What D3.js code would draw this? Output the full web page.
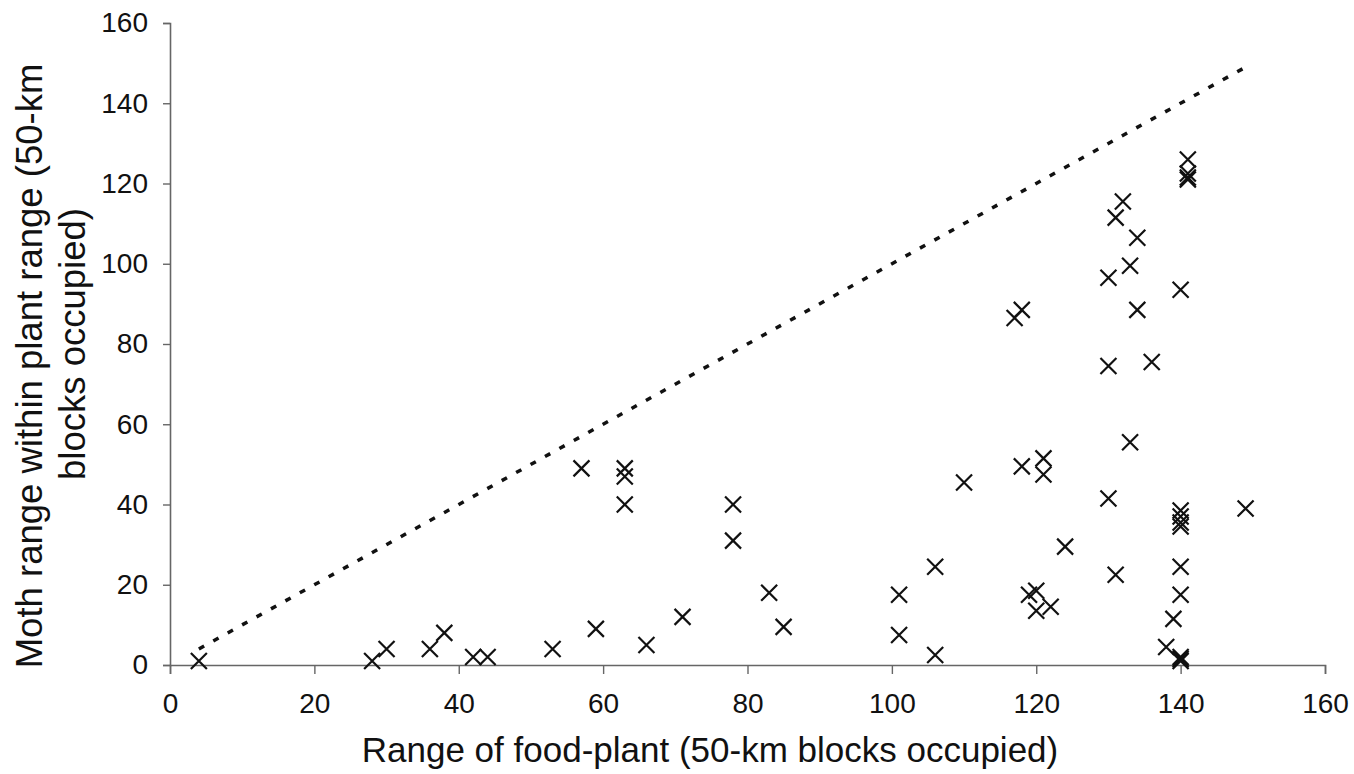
<!DOCTYPE html>
<html>
<head>
<meta charset="utf-8">
<script src="https://cdn.jsdelivr.net/npm/d3@7"></script>
<style>
  html, body { margin: 0; padding: 0; background: #fff; }
  svg { display: block; }
  text { font-family: "Liberation Sans", Arial, sans-serif; fill: #111; }
</style>
</head>
<body>
<svg id="chart" width="1354" height="774"></svg>
<script>
// Range of food-plant (x) and moth range within plant range (y), in 50-km blocks
const plantRange = [4, 28, 30, 36, 38, 42, 44, 53, 57, 59, 63, 63, 63, 66, 71, 78, 78, 83, 85,
  101, 101, 106, 106, 110, 117, 118, 118, 119, 120, 120, 121, 121, 122, 124,
  130, 130, 130, 131, 131, 132, 133, 133, 134, 134, 136, 138, 139,
  140, 140, 140, 140, 140, 140, 140, 140, 140, 140, 141, 141, 141, 141, 149];
const mothRange = [1, 1, 4, 4, 8, 2, 2, 4, 49, 9, 49, 47, 40, 5, 12, 40, 31, 18, 9.5,
  17.5, 7.5, 24.5, 2.5, 45.5, 86.5, 88.5, 49.5, 17.5, 18.5, 13.5, 51.5, 47.5, 14.5, 29.5,
  96.5, 74.5, 41.5, 111.5, 22.5, 115.5, 99.5, 55.5, 106.5, 88.5, 75.5, 4.5, 11.5,
  93.5, 38.5, 37, 35.5, 34.5, 24.5, 17.5, 2, 1.5, 1, 126, 122.5, 121.5, 121, 39];
// 1:1 reference line (moth range = plant range)
const refLineX = [4, 149];
const xTicks = [0, 20, 40, 60, 80, 100, 120, 140, 160];
const yTicks = [0, 20, 40, 60, 80, 100, 120, 140, 160];
const xTitle = "Range of food-plant (50-km blocks occupied)";
const yTitleLines = ["Moth range within plant range (50-km", "blocks occupied)"];

const svg = d3.select("#chart");
const x = d3.scaleLinear().domain([0, 160]).range([170, 1325]);
const y = d3.scaleLinear().domain([0, 160]).range([665, 23]);

// Axes
const xAxis = svg.append("g").attr("transform", `translate(0,${y(0)})`)
  .call(d3.axisBottom(x).tickValues(xTicks).tickSize(9).tickPadding(19));
const yAxis = svg.append("g").attr("transform", `translate(${x(0)},0)`)
  .call(d3.axisLeft(y).tickValues(yTicks).tickSize(7).tickPadding(15));
[xAxis, yAxis].forEach(g => {
  g.select(".domain").attr("stroke", "#666").attr("stroke-width", 1.6);
  g.selectAll(".tick line").attr("stroke", "#666").attr("stroke-width", 1.4);
  g.selectAll(".tick text").attr("font-size", 28).attr("fill", "#111")
    .attr("font-family", "Liberation Sans, Arial, sans-serif");
});

// Dotted 1:1 line
svg.append("line")
  .attr("x1", x(refLineX[0])).attr("y1", y(refLineX[0]))
  .attr("x2", x(refLineX[1])).attr("y2", y(refLineX[1]))
  .attr("stroke", "#111").attr("stroke-width", 3.5)
  .attr("stroke-dasharray", "6 10.5");

// X markers
const s = 8;
const pts = plantRange.map((d, i) => ({ px: d, my: mothRange[i] }));
svg.append("g").selectAll("path").data(pts).join("path")
  .attr("d", d => {
    const cx = x(d.px), cy = y(d.my);
    return `M${cx - s},${cy - s}L${cx + s},${cy + s}M${cx - s},${cy + s}L${cx + s},${cy - s}`;
  })
  .attr("stroke", "#111").attr("stroke-width", 2.2).attr("fill", "none");

// Axis titles
svg.append("text").attr("x", 710).attr("y", 762)
  .attr("text-anchor", "middle").attr("font-size", 35).text(xTitle);

const yCenters = [366, 344];
const yBaselines = [42, 85];
yTitleLines.forEach((t, i) => {
  svg.append("text")
    .attr("transform", `translate(${yBaselines[i]},${yCenters[i]}) rotate(-90)`)
    .attr("text-anchor", "middle").attr("font-size", 36.5).text(t);
});
</script>
</body>
</html>
